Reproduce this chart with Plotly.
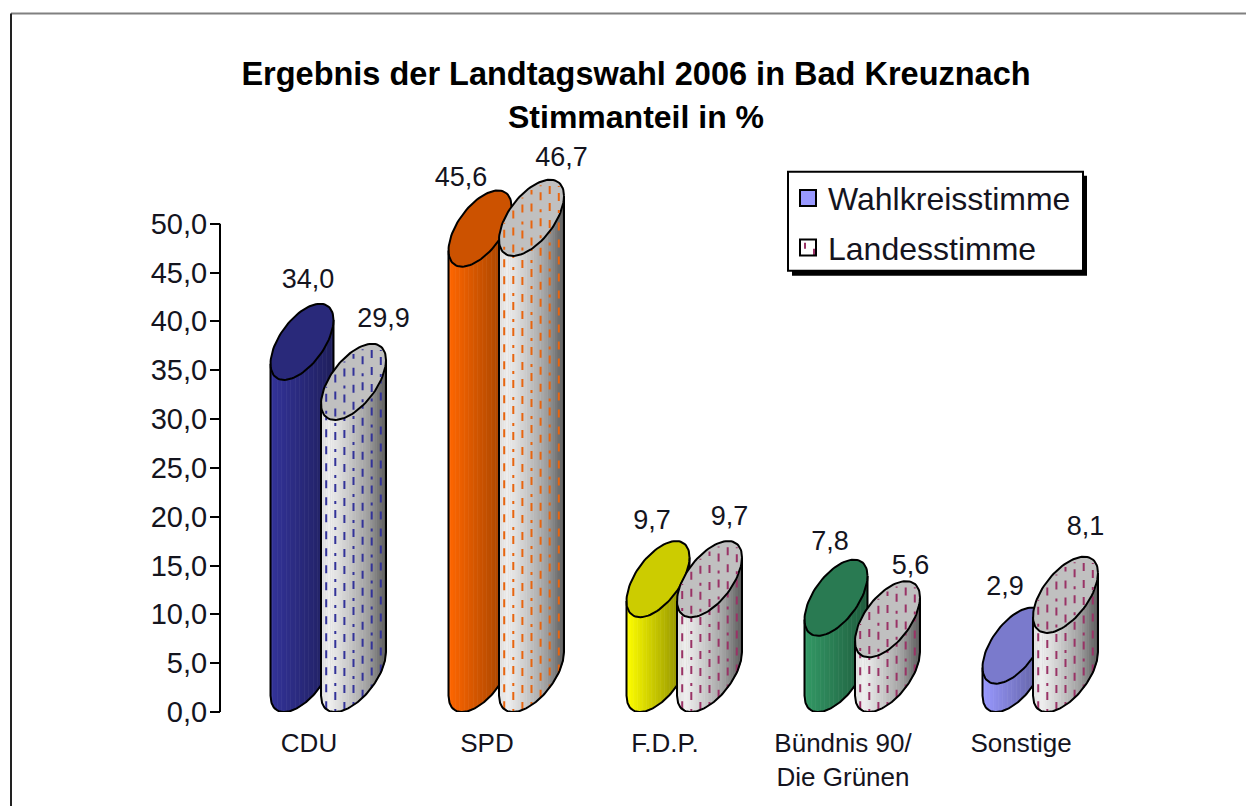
import math
import plotly.graph_objects as go

# ---- data ----
categories = ["CDU", "SPD", "F.D.P.", "Bündnis 90/<br>Die Grünen", "Sonstige"]
wahlkreisstimme = [34.0, 45.6, 9.7, 7.8, 2.9]
landesstimme = [29.9, 46.7, 9.7, 5.6, 8.1]
series_names = ["Wahlkreisstimme", "Landesstimme"]
title_line_1 = "Ergebnis der Landtagswahl 2006 in Bad Kreuznach"
title_line_2 = "Stimmanteil in %"
y_ticks = [0, 5, 10, 15, 20, 25, 30, 35, 40, 45, 50]

# ---- styling ----
W, H = 1246, 806
Y_TOP_VALUE = 60.0                       # headroom so tall cylinders are not clipped
L, R, B = 221, 1120, 712
PX_PER_VALUE = 9.76
T = B - PX_PER_VALUE * Y_TOP_VALUE
X_UNIT = 178.0                           # px per category
X_MIN = (L - 309) / X_UNIT
X_MAX = (R - 309) / X_UNIT
A1, A2 = 31.5 / X_UNIT, 32.5 / X_UNIT    # half widths in category units
OFF1, OFF2 = -7 / X_UNIT, 44.5 / X_UNIT  # cylinder offsets in category units
BV = 3.9                                 # half height of the ellipse in value units
DELTA = math.radians(55)
FONT = "Liberation Sans"
INK = "#14141e"

front_light = ["#333399", "#ff6600", "#ffff00", "#339966", "#9999ff"]
front_dark = ["#1f1f5c", "#994000", "#808000", "#1f5c3d", "#5c5c99"]
front_top = ["#29297a", "#cc5200", "#cccc00", "#297a52", "#7a7acc"]
dash_colors = ["#333399", "#e8650f", "#993366", "#993366", "#993366"]
gray_stops = [(0, (225, 225, 225)), (0.14, (238, 238, 238)), (0.45, (198, 198, 198)),
              (0.72, (160, 160, 160)), (1, (90, 90, 90))]
# label placement relative to each cylinder (px sideways, value units above)
label_nudge_1 = [6, -19, -6, -6, -9]
label_nudge_2 = [30, 30, 20, 23, 20]
label_rise_1 = [10.1, 8.9, 9.7, 9.5, 9.8]
label_rise_2 = [10.2, 9.9, 10.1, 9.2, 10.7]


def lerp(c0, c1, f):
    return tuple(round(a + (b - a) * f) for a, b in zip(c0, c1))


def hex2rgb(h):
    return tuple(int(h[i:i + 2], 16) for i in (1, 3, 5))


def rgb(c):
    return f"rgb({c[0]},{c[1]},{c[2]})"


def gray_at(f):
    for (f0, c0), (f1, c1) in zip(gray_stops, gray_stops[1:]):
        if f <= f1:
            return lerp(c0, c1, (f - f0) / (f1 - f0))
    return gray_stops[-1][1]


def low(u):
    """lower arc of the tilted ellipse at u in [-1, 1], value units"""
    th = math.acos(max(-1, min(1, u)))
    return BV * math.cos(th + DELTA)


def high(u):
    th = math.acos(max(-1, min(1, u)))
    return BV * math.cos(th - DELTA)


fig = go.Figure()


def poly(xs, ys, fill=None, line="black", width=2, dash=None):
    fig.add_trace(go.Scatter(
        x=xs, y=ys, mode="lines", fill="toself" if fill else "none",
        fillcolor=fill, line=dict(color=line, width=width, dash=dash),
        hoverinfo="skip", showlegend=False, cliponaxis=False))


def cylinder(cx, a, v, shade, top, dash_color=None):
    n = 28
    # body strips
    for i in range(n):
        u0, u1 = -1 + 2 * i / n, -1 + 2 * (i + 1) / n
        us = [u0 + (u1 - u0) * k / 3 for k in range(4)]
        xs = [cx + a * u for u in us]
        up = [v + BV + low(u) for u in us]
        dn = [BV + low(u) for u in us]
        col = rgb(shade((i + .5) / n))
        poly(xs + xs[::-1], up + dn[::-1], fill=col, line=col, width=1)
    cols = []
    if dash_color:
        cols = [-0.84 + j * 0.28 for j in range(7)]
        for j, u in enumerate(cols):
            d = "8px,9px" if j % 2 == 0 else "3px,9px,8px,6px"
            poly([cx + a * u] * 2, [BV + low(u), v + BV + low(u)],
                 line=dash_color, width=2, dash=d)
    # silhouette
    m = 60
    us = [-1 + 2 * k / m for k in range(m + 1)]
    sx = [cx - a] + [cx + a * u for u in us] + [cx + a]
    sy = [v + BV + low(-1)] + [BV + low(u) for u in us] + [v + BV + low(1)]
    poly(sx, sy)
    # top ellipse
    ts = [2 * math.pi * k / 90 for k in range(91)]
    ex = [cx + a * math.cos(t) for t in ts]
    ey = [v + BV + BV * math.cos(t - DELTA) for t in ts]
    poly(ex, ey, fill=top, line="black", width=2)
    if dash_color:
        for j, u in enumerate(cols):
            d = "3px,9px,8px,6px" if j % 2 == 0 else "8px,9px"
            poly([cx + a * u] * 2, [v + BV + low(u) + .35, v + BV + high(u) - .35],
                 line=dash_color, width=2, dash=d)


for i in range(len(categories)):
    c0, c1 = hex2rgb(front_light[i]), hex2rgb(front_dark[i])
    cylinder(i + OFF1, A1, wahlkreisstimme[i], lambda f, a=c0, b=c1: lerp(a, b, f), front_top[i])
    cylinder(i + OFF2, A2, landesstimme[i], gray_at, "#c0c0c0", dash_colors[i])

# value labels
lx, ly, lt = [], [], []
for i in range(len(categories)):
    for off, nudge, rise, vals in ((OFF1, label_nudge_1, label_rise_1, wahlkreisstimme),
                                   (OFF2, label_nudge_2, label_rise_2, landesstimme)):
        lx.append(i + off + nudge[i] / X_UNIT)
        ly.append(vals[i] + rise[i])
        lt.append(f"{vals[i]:.1f}".replace(".", ","))
fig.add_trace(go.Scatter(x=lx, y=ly, mode="text", text=lt, textposition="middle center",
                         textfont=dict(family=FONT, size=27, color=INK),
                         hoverinfo="skip", showlegend=False, cliponaxis=False))

# legend entries
fig.add_trace(go.Scatter(x=[None], y=[None], mode="markers", name=series_names[0], legendgroup="a",
                         marker=dict(symbol="square", size=16, color="#9999ff",
                                     line=dict(color="black", width=2))))
fig.add_trace(go.Scatter(x=[None], y=[None], mode="markers", name=series_names[1], legendgroup="b",
                         marker=dict(symbol="square", size=16, color="rgba(0,0,0,0)",
                                     line=dict(color="black", width=2))))


def px(x):
    return (x - L) / (R - L)


def py(y):
    return (B - y) / (B - T)


shapes = [
    dict(type="line", xref="paper", yref="paper", x0=px(11), x1=px(1246), y0=py(14), y1=py(14),
         line=dict(color="#808080", width=2)),
    dict(type="line", xref="paper", yref="paper", x0=px(11), x1=px(11), y0=py(14), y1=py(806),
         line=dict(color="#222222", width=2)),
    # y axis line, only as far as the last tick
    dict(type="line", xref="paper", yref="y", x0=-1 / (R - L), x1=-1 / (R - L), y0=y_ticks[0], y1=y_ticks[-1],
         line=dict(color="black", width=2)),
    # legend frame and shadow
    dict(type="rect", xref="paper", yref="paper", x0=px(792), x1=px(1087), y0=py(176), y1=py(276),
         fillcolor="black", line=dict(width=0), layer="below"),
    dict(type="rect", xref="paper", yref="paper", x0=px(788), x1=px(1083), y0=py(172), y1=py(271),
         fillcolor="white", line=dict(color="black", width=2), layer="below"),
    # little pattern inside the second legend swatch
    dict(type="line", xref="paper", yref="paper", x0=px(805), x1=px(805), y0=py(243), y1=py(249),
         line=dict(color="#993366", width=2), layer="below"),
    dict(type="line", xref="paper", yref="paper", x0=px(814), x1=px(814), y0=py(249), y1=py(256),
         line=dict(color="#993366", width=2), layer="below"),
]

fig.update_layout(
    width=W, height=H, margin=dict(l=L, r=W - R, t=T, b=H - B, pad=0, autoexpand=False),
    paper_bgcolor="white", plot_bgcolor="rgba(0,0,0,0)",
    separators=",.",
    font=dict(family=FONT, color=INK),
    title=dict(text=f"<b>{title_line_1}</b>", font=dict(family=FONT, size=32.5, color="#000000"),
               xref="paper", x=px(636), xanchor="center", yref="container", y=1 - 74 / H, yanchor="middle"),
    annotations=[dict(text=f"<b>{title_line_2}</b>", xref="paper", yref="paper", x=px(636), y=py(117),
                      xanchor="center", yanchor="middle", showarrow=False,
                      font=dict(family=FONT, size=32, color="#000000"))],
    xaxis=dict(range=[X_MIN, X_MAX], tickmode="array", tickvals=list(range(len(categories))),
               ticktext=categories, ticks="outside", ticklen=8, tickcolor="rgba(0,0,0,0)",
               showline=False, showgrid=False, zeroline=False,
               tickfont=dict(family=FONT, size=26, color=INK)),
    yaxis=dict(range=[0, Y_TOP_VALUE], tickmode="array", tickvals=y_ticks, tickformat=".1f",
               ticks="outside", ticklen=10, tickwidth=2, ticklabelstandoff=-3,
               tickcolor="black", showline=False,
               showgrid=False, zeroline=False, tickfont=dict(family=FONT, size=29, color=INK)),
    legend=dict(x=px(788), y=py(171), xanchor="left", yanchor="top", bgcolor="rgba(0,0,0,0)",
                borderwidth=0, tracegroupgap=5,
                font=dict(family=FONT, size=32, color=INK)),
    showlegend=True,
    shapes=shapes,
)

fig.write_html("out.html", config=dict(displayModeBar=False),
               post_script="document.body.style.margin='0';")
